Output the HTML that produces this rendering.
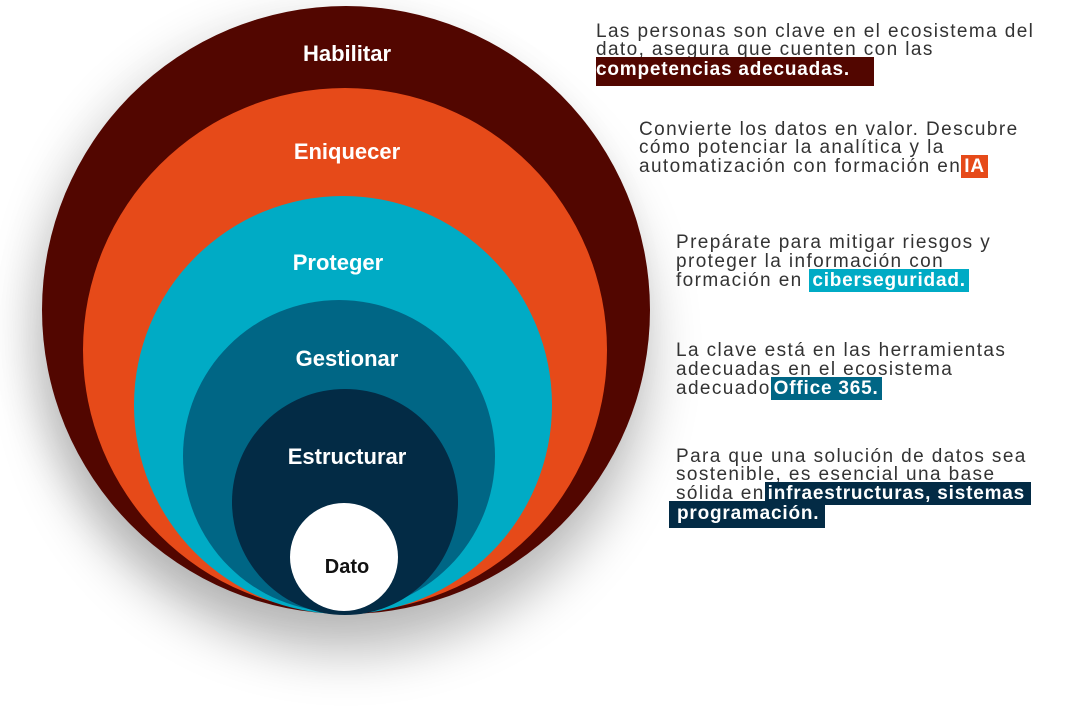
<!DOCTYPE html>
<html><head><meta charset="utf-8"><style>
body{margin:0;width:1080px;height:710px;background:#fff;position:relative;overflow:hidden;font-family:"Liberation Sans",sans-serif}
.c{position:absolute;border-radius:50%}
.lb{position:absolute;color:#fff;font-weight:bold;font-size:22px;transform:translateX(-50%);white-space:nowrap}
.t{position:absolute;font-size:19px;line-height:19px;color:#333;white-space:nowrap;letter-spacing:1.4px}
.h{color:#fff;font-weight:bold;padding:1px 3px;letter-spacing:0.8px}
</style></head><body>
<div class="c" style="left:42px;top:6px;width:608px;height:608px;background:#520600;box-shadow:0 40px 50px rgba(0,0,0,0.25),-20px 0 40px rgba(0,0,0,0.08)"></div>
<div class="c" style="left:83px;top:88px;width:524px;height:524px;background:#e64a19"></div>
<div class="c" style="left:134px;top:196px;width:418px;height:418px;background:#00abc5"></div>
<div class="c" style="left:183px;top:300px;width:312px;height:312px;background:#006685"></div>
<div class="c" style="left:232px;top:389px;width:226px;height:226px;background:#032b45"></div>
<div class="c" style="left:290px;top:503px;width:108px;height:108px;background:#fff"></div>
<div class="lb" style="left:347px;top:41px">Habilitar</div>
<div class="lb" style="left:347px;top:139px">Eniquecer</div>
<div class="lb" style="left:338px;top:250px">Proteger</div>
<div class="lb" style="left:347px;top:346px">Gestionar</div>
<div class="lb" style="left:347px;top:444px">Estructurar</div>
<div class="lb" style="left:347px;top:556px;color:#111;font-size:20px">Dato</div>

<div class="t" style="left:596px;top:22px">Las personas son clave en el ecosistema del</div>
<div class="t" style="left:596px;top:40px">dato, asegura que cuenten con las</div>
<div class="t" style="left:596px;top:60px"><span class="h" style="background:#520600;padding:2px 24px 6px 0">competencias adecuadas.</span></div>

<div class="t" style="left:639px;top:120px">Convierte los datos en valor. Descubre</div>
<div class="t" style="left:639px;top:138px">cómo potenciar la analítica y la</div>
<div class="t" style="left:639px;top:157px">automatización con formación en<span class="h" style="background:#e64a19">IA</span></div>

<div class="t" style="left:676px;top:233px">Prepárate para mitigar riesgos y</div>
<div class="t" style="left:676px;top:252px">proteger la información con</div>
<div class="t" style="left:676px;top:271px">formación en <span class="h" style="background:#00abc5">ciberseguridad.</span></div>

<div class="t" style="left:676px;top:341px">La clave está en las herramientas</div>
<div class="t" style="left:676px;top:360px">adecuadas en el ecosistema</div>
<div class="t" style="left:676px;top:379px">adecuado<span class="h" style="background:#006685">Office 365.</span></div>

<div class="t" style="left:676px;top:447px">Para que una solución de datos sea</div>
<div class="t" style="left:676px;top:465px">sostenible, es esencial una base</div>
<div class="t" style="left:676px;top:484px">sólida en<span class="h" style="background:#032b45;padding-right:6px">infraestructuras, sistemas</span></div>
<div class="t" style="left:669px;top:504px"><span class="h" style="background:#032b45;padding:2px 6px 4px 8px">programación.</span></div>
</body></html>
